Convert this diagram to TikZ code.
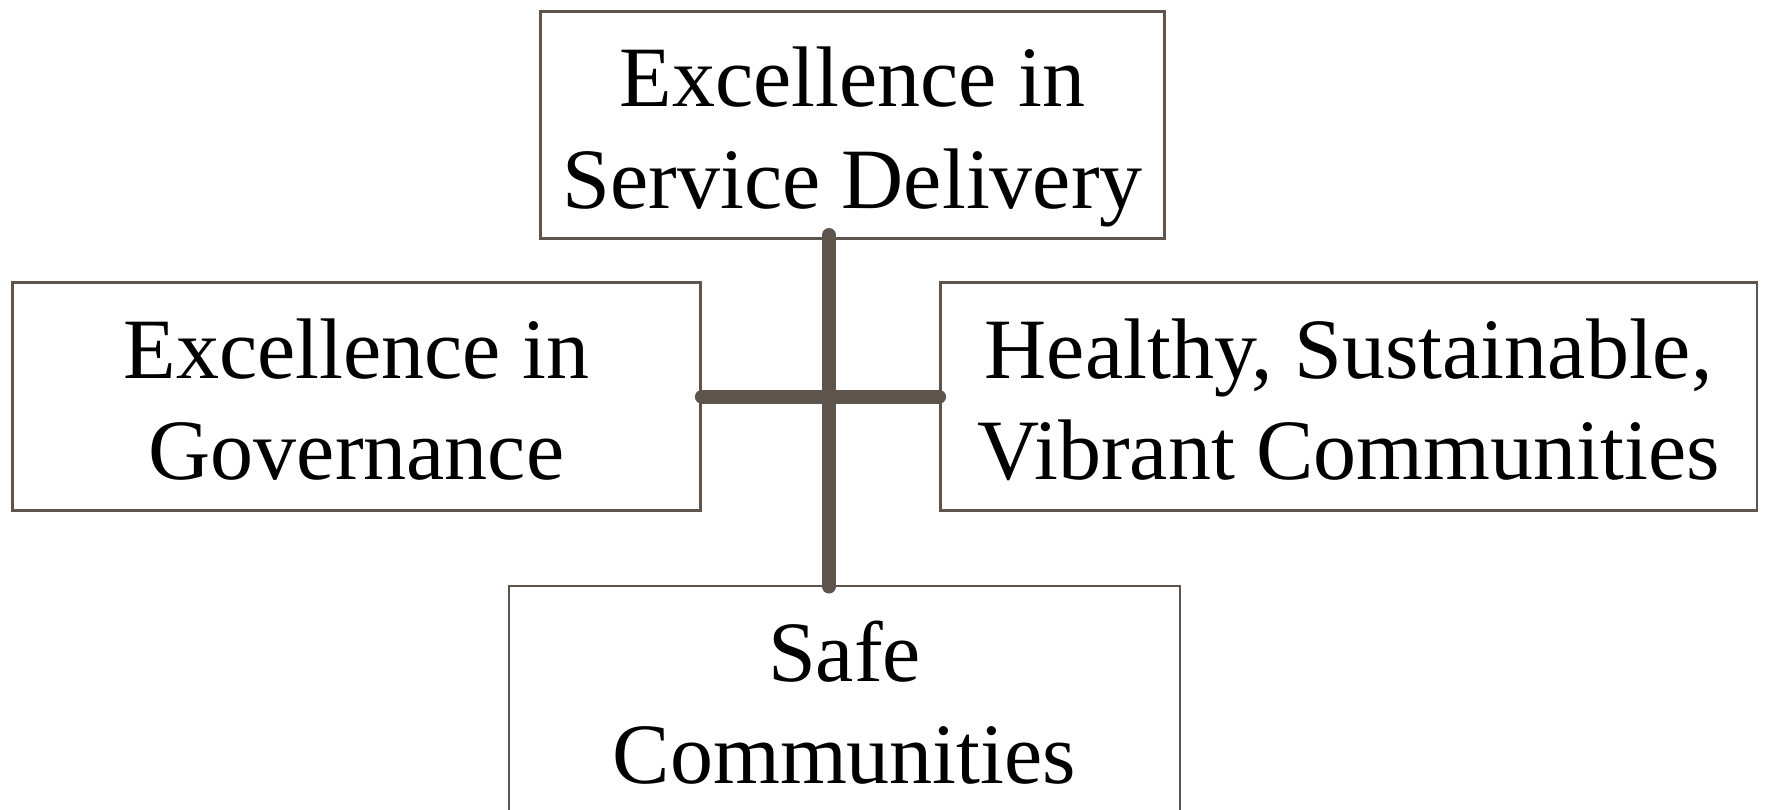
\documentclass[tikz,border=0pt]{standalone}
\usepackage{fontspec}
\setmainfont{Liberation Serif}
\definecolor{edge}{RGB}{93,85,76}
\begin{document}
\begin{tikzpicture}[x=1pt,y=-1pt,
  box/.style={draw=edge, line width=2.8pt, rectangle, inner sep=0pt, align=center,
    font=\fontsize{86}{101.5}\selectfont, text=black,
    text height=197pt, text depth=30.5pt, minimum height=227.5pt},
  bar/.style={draw=edge, line width=14pt, line cap=round}]
\useasboundingbox (0,0) rectangle (1766,809);
\clip (0,0) rectangle (1766,809);
\node[box, minimum width=624pt] (top) at (852.6,125) {Excellence in\\Service Delivery};
\node[box, minimum width=688pt] (left) at (356.5,396.5) {Excellence in\\Governance};
\node[box, minimum width=816.5pt] (right) at (1348.7,396.5) {Healthy, Sustainable,\\Vibrant Communities};
\node[box, minimum width=671pt] (bottom) at (844.5,699.75) {Safe\\Communities};
\coordinate (vtop) at (829,235);
\coordinate (vbot) at (829,586.5);
\draw[bar] (vtop) -- (vbot);
\draw[bar] (left.east) -- (right.west);
\end{tikzpicture}
\end{document}
